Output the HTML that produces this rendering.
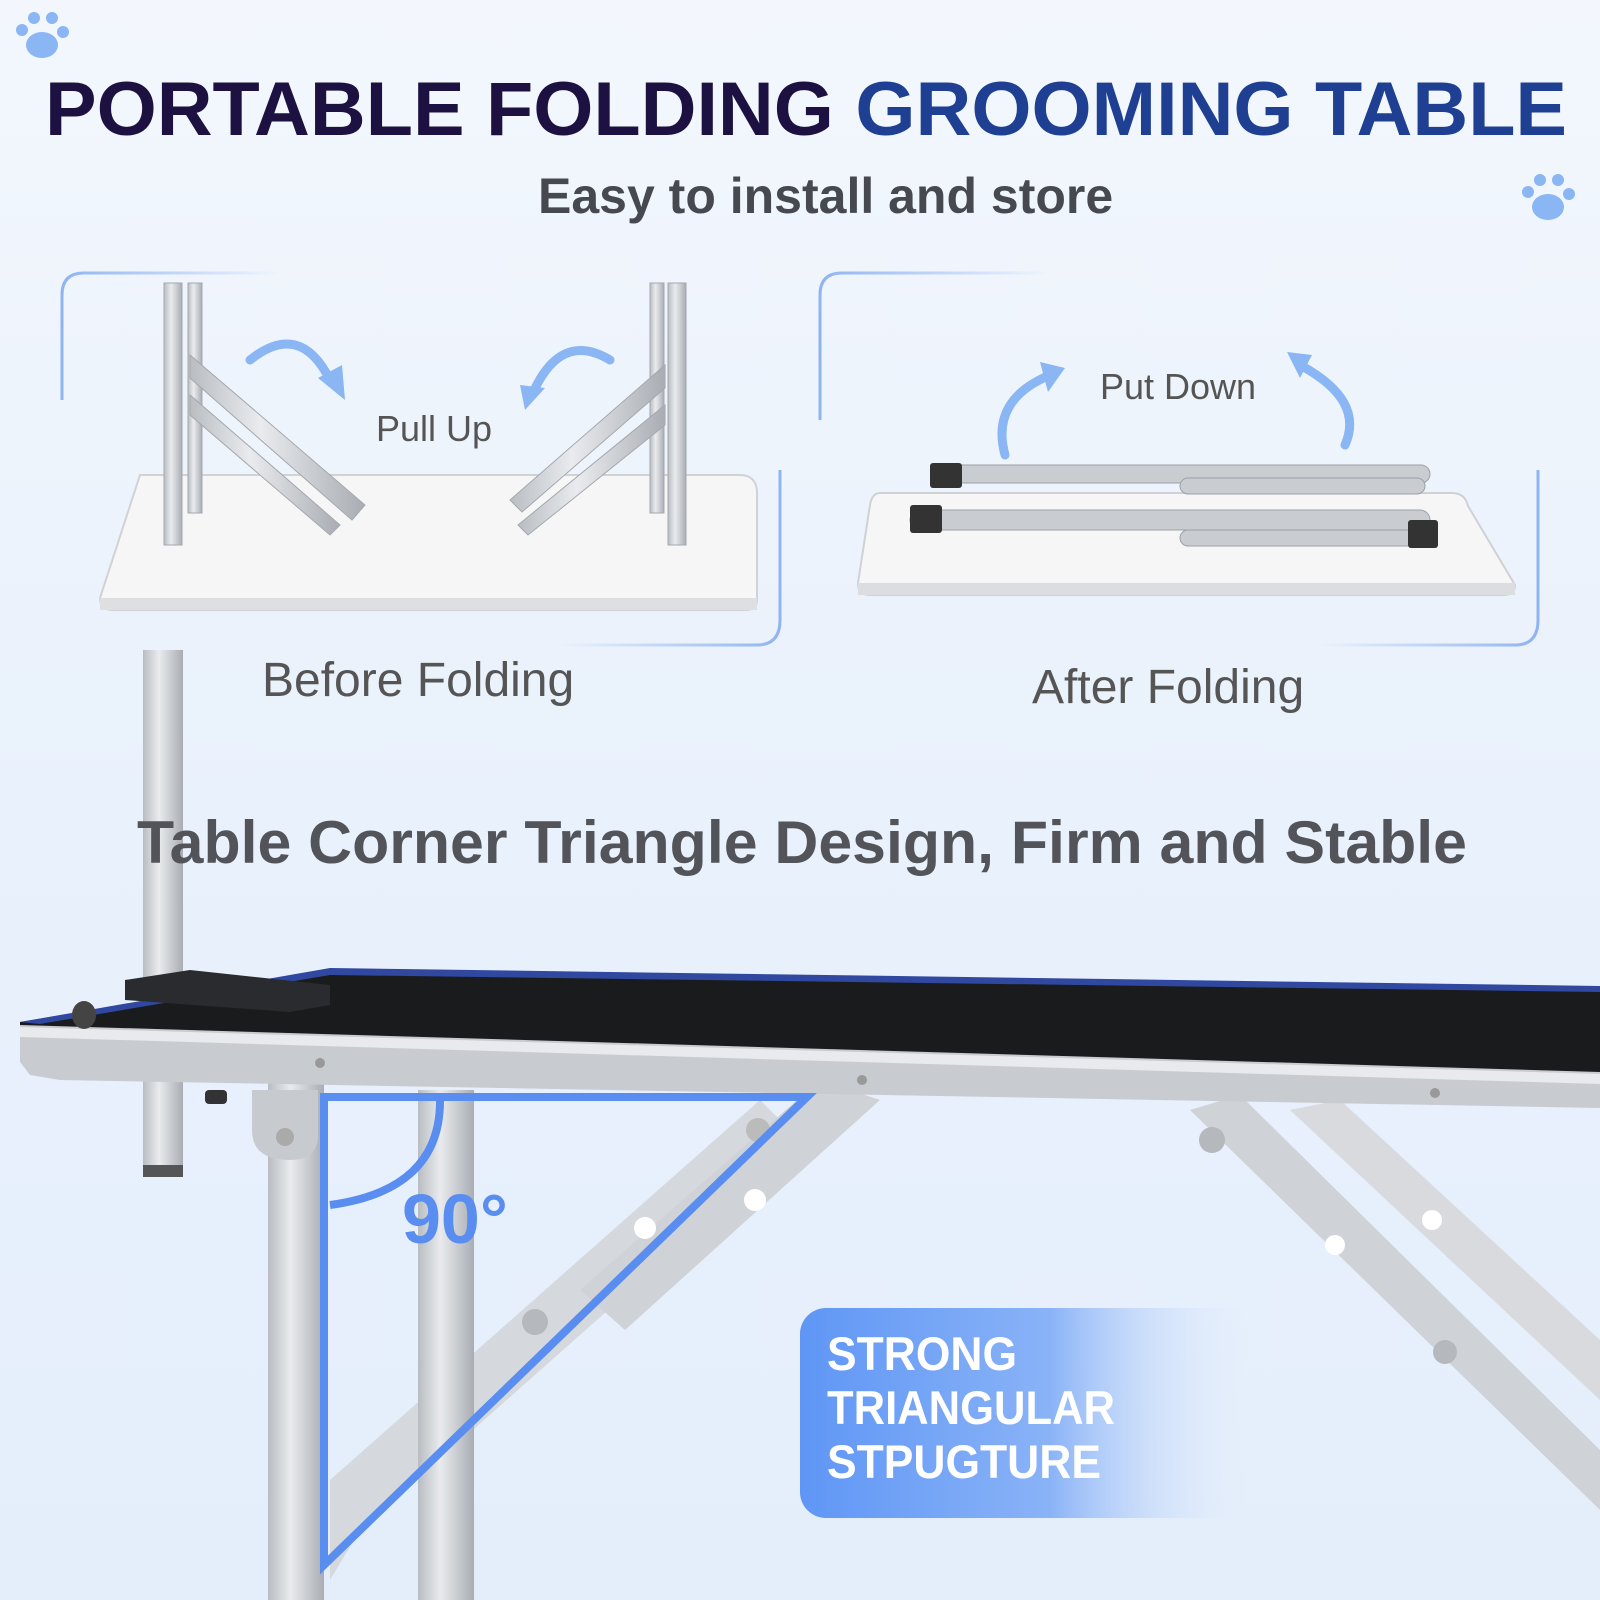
<!DOCTYPE html>
<html><head><meta charset="utf-8"><style>
html,body{margin:0;padding:0;width:1600px;height:1600px;overflow:hidden;background:#eaf2fc}
svg{display:block}
text{font-family:"Liberation Sans","DejaVu Sans",sans-serif}
</style></head><body>
<svg width="1600" height="1600" viewBox="0 0 1600 1600" xmlns="http://www.w3.org/2000/svg">
<defs>
<linearGradient id="bg" x1="0" y1="0" x2="0" y2="1">
<stop offset="0" stop-color="#f3f7fd"/><stop offset="0.5" stop-color="#e9f1fc"/><stop offset="1" stop-color="#e4eefb"/></linearGradient>
<linearGradient id="badge" x1="0" y1="0" x2="1" y2="0">
<stop offset="0" stop-color="#5f96f5"/><stop offset="0.55" stop-color="#8ab3f7"/><stop offset="1" stop-color="#e6effc" stop-opacity="0"/></linearGradient>
<linearGradient id="leg" x1="0" y1="0" x2="1" y2="0">
<stop offset="0" stop-color="#b9bdc2"/><stop offset="0.4" stop-color="#e9ebee"/><stop offset="1" stop-color="#a9adb3"/></linearGradient>
<linearGradient id="fadeL" x1="0" y1="0" x2="1" y2="0"><stop offset="0" stop-color="#8fb4f3"/><stop offset="1" stop-color="#8fb4f3" stop-opacity="0"/></linearGradient>
<linearGradient id="fadeR" x1="1" y1="0" x2="0" y2="0"><stop offset="0" stop-color="#8fb4f3"/><stop offset="1" stop-color="#8fb4f3" stop-opacity="0"/></linearGradient>
</defs>
<rect width="1600" height="1600" fill="url(#bg)"/>

<g fill="#8ab6f4">
<ellipse cx="42" cy="45" rx="16" ry="13"/><circle cx="22" cy="30" r="6"/><circle cx="34" cy="18" r="6"/><circle cx="52" cy="18" r="6"/><circle cx="63" cy="32" r="6"/>
<ellipse cx="1548" cy="207" rx="16" ry="13"/><circle cx="1528" cy="192" r="6"/><circle cx="1540" cy="180" r="6"/><circle cx="1558" cy="180" r="6"/><circle cx="1569" cy="194" r="6"/>
</g>

<text x="45" y="135" font-size="76" font-weight="bold" fill="#1c1140" textLength="1522" lengthAdjust="spacingAndGlyphs">PORTABLE FOLDING <tspan fill="#1e3f92">GROOMING TABLE</tspan></text>
<text x="538" y="213" font-size="50" font-weight="bold" fill="#464a50">Easy to install and store</text>

<path d="M62 400 V295 Q62 273 84 273 H280" fill="none" stroke="url(#fadeL)" stroke-width="3"/>
<path d="M780 470 V620 Q780 645 757 645 H560" fill="none" stroke="url(#fadeR)" stroke-width="3"/>
<path d="M820 420 V295 Q820 273 842 273 H1050" fill="none" stroke="url(#fadeL)" stroke-width="3"/>
<path d="M1538 470 V620 Q1538 645 1515 645 H1320" fill="none" stroke="url(#fadeR)" stroke-width="3"/>

<path d="M140 475 H740 Q755 475 757 490 L757 600 Q757 610 745 610 H112 Q100 610 100 598 Z" fill="#f6f6f7" stroke="#d0d2d5" stroke-width="2"/>
<rect x="100" y="598" width="657" height="12" fill="#dedfe1"/>
<g fill="url(#leg)" stroke="#a4a8ae" stroke-width="1">
<rect x="164" y="283" width="18" height="262"/><rect x="188" y="283" width="14" height="230"/>
<rect x="668" y="283" width="18" height="262"/><rect x="650" y="283" width="14" height="230"/>
<polygon points="190,355 365,505 352,520 190,378"/>
<polygon points="190,395 340,525 330,535 190,415"/>
<polygon points="665,365 510,500 522,512 665,388"/>
<polygon points="665,405 518,525 528,535 665,425"/>
</g>
<g fill="none" stroke="#8ab6f4" stroke-width="9" stroke-linecap="round">
<path d="M250 360 Q300 320 330 380"/><path d="M610 360 Q560 330 532 395"/>
<path d="M1005 455 Q990 400 1050 375"/><path d="M1345 445 Q1365 400 1300 365"/>
</g>
<g fill="#8ab6f4">
<polygon points="318,378 345,400 342,365"/><polygon points="520,385 525,410 545,388"/>
<polygon points="1040,362 1065,368 1048,392"/><polygon points="1287,352 1312,355 1300,378"/>
</g>
<text x="376" y="441" font-size="36" fill="#555">Pull Up</text>
<text x="1100" y="399" font-size="36" fill="#555">Put Down</text>

<path d="M880 493 H1452 Q1465 493 1468 506 L1515 585 Q1515 595 1503 595 H870 Q858 595 858 583 L870 505 Q872 493 880 493 Z" fill="#f6f6f7" stroke="#cfd1d4" stroke-width="2"/>
<rect x="858" y="583" width="657" height="12" fill="#dcdde0"/>
<g fill="#c9ccd0" stroke="#9da1a7" stroke-width="1">
<rect x="935" y="465" width="495" height="18" rx="9"/>
<rect x="910" y="510" width="520" height="20" rx="10"/>
<rect x="1180" y="478" width="245" height="16" rx="8"/>
<rect x="1180" y="530" width="240" height="16" rx="8"/>
</g>
<g fill="#333"><rect x="930" y="463" width="32" height="25" rx="3"/><rect x="910" y="505" width="32" height="28" rx="3"/><rect x="1408" y="520" width="30" height="28" rx="3"/></g>

<text x="262" y="696" font-size="48" fill="#555">Before Folding</text>
<text x="1032" y="703" font-size="48" fill="#555">After Folding</text>

<rect x="143" y="650" width="40" height="520" fill="url(#leg)"/>
<rect x="143" y="1165" width="40" height="12" fill="#555"/>

<text x="137" y="863" font-size="60" font-weight="bold" fill="#525459" textLength="1330" lengthAdjust="spacingAndGlyphs">Table Corner Triangle Design, Firm and Stable</text>

<polygon points="330,1580 330,1480 760,1100 800,1140 360,1530" fill="#d3d6da" opacity="0.9"/>
<rect x="268" y="1080" width="56" height="520" fill="url(#leg)"/>
<rect x="418" y="1090" width="56" height="510" fill="url(#leg)"/>
<polygon points="580,1290 820,1080 880,1100 625,1330" fill="#cfd2d6"/>
<polygon points="1190,1110 1240,1095 1600,1450 1600,1510" fill="#cfd2d6"/>
<polygon points="1290,1110 1340,1100 1600,1340 1600,1400" fill="#d8dade"/>
<circle cx="758" cy="1130" r="12" fill="#bbb"/><circle cx="535" cy="1322" r="13" fill="#b5b8bc"/><circle cx="1212" cy="1140" r="13" fill="#b5b8bc"/><circle cx="1445" cy="1352" r="12" fill="#b5b8bc"/>
<g fill="#fff"><circle cx="645" cy="1228" r="11"/><circle cx="755" cy="1200" r="11"/><circle cx="1432" cy="1220" r="10"/><circle cx="1335" cy="1245" r="10"/></g>
<path d="M252 1090 H318 V1135 Q318 1160 290 1160 Q252 1160 252 1130 Z" fill="#c7cacf"/>
<circle cx="285" cy="1137" r="9" fill="#aaa"/>
<polygon points="20,1035 20,1022 330,970 1600,988 1600,1095 318,1080" fill="#1a1b1d"/>
<polygon points="20,1022 330,968 1600,986 1600,992 330,975 40,1024" fill="#3048a0"/>
<polygon points="20,1025 1600,1072 1600,1108 60,1080 30,1075 20,1062" fill="#c8cbd0"/>
<polygon points="20,1027 1600,1074 1600,1084 20,1037" fill="#e8eaed"/>
<circle cx="320" cy="1063" r="5" fill="#999"/><circle cx="862" cy="1080" r="5" fill="#999"/><circle cx="1435" cy="1093" r="5" fill="#999"/>
<polygon points="125,980 190,970 330,985 330,1005 290,1012 125,1000" fill="#2a2b2e"/>
<rect x="205" y="1090" width="22" height="14" rx="4" fill="#333"/>
<ellipse cx="84" cy="1015" rx="12" ry="14" fill="#444"/>

<polygon points="324,1097 807,1097 324,1565" fill="none" stroke="#5a8df0" stroke-width="8" stroke-linejoin="miter"/>
<path d="M440 1101 Q440 1190 330 1205" fill="none" stroke="#5a8df0" stroke-width="8"/>
<text x="402" y="1243" font-size="70" font-weight="bold" fill="#5a8df0">90°</text>

<rect x="800" y="1308" width="455" height="210" rx="26" fill="url(#badge)"/>
<g font-size="47" font-weight="bold" fill="#fff">
<text x="827" y="1370" textLength="190" lengthAdjust="spacingAndGlyphs">STRONG</text><text x="827" y="1424" textLength="288" lengthAdjust="spacingAndGlyphs">TRIANGULAR</text><text x="827" y="1478" textLength="274" lengthAdjust="spacingAndGlyphs">STPUGTURE</text>
</g>
</svg>
</body></html>
